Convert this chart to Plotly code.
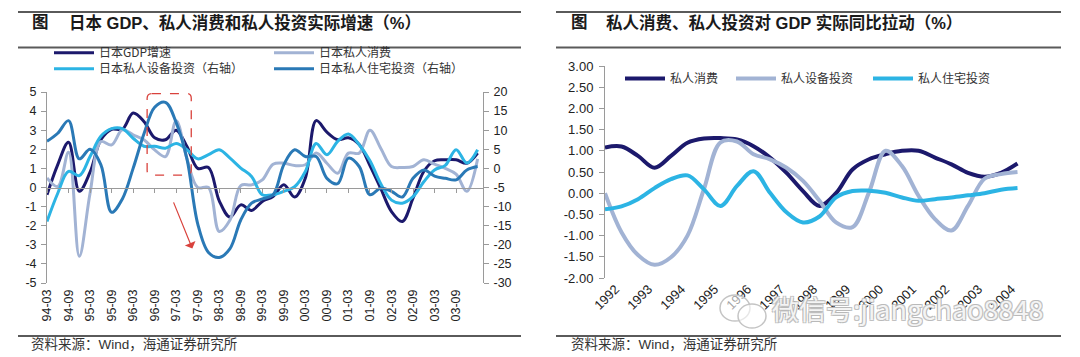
import plotly.graph_objects as go

W, H = 1080, 357

# ---------------- data: left panel (quarterly, y/y %) ----------------
quarters = ["94-03", "94-06", "94-09", "94-12", "95-03", "95-06", "95-09", "95-12",
            "96-03", "96-06", "96-09", "96-12", "97-03", "97-06", "97-09", "97-12",
            "98-03", "98-06", "98-09", "98-12", "99-03", "99-06", "99-09", "99-12",
            "00-03", "00-06", "00-09", "00-12", "01-03", "01-06", "01-09", "01-12",
            "02-03", "02-06", "02-09", "02-12", "03-03", "03-06", "03-09", "03-12",
            "04-03"]
left_tick_labels = ["94-03", "94-09", "95-03", "95-09", "96-03", "96-09", "97-03",
                    "97-09", "98-03", "98-09", "99-03", "99-09", "00-03", "00-09",
                    "01-03", "01-09", "02-03", "02-09", "03-03", "03-09"]

gdp_growth = [-0.38, 1.2, 2.37, -0.2, 0.8, 2.5, 3.05, 3.05, 3.9, 3.46, 2.6, 2.5, 3.0,
              2.15, 1.0, 1.05, -0.7, -1.55, -0.91, -1.2, -0.73, -0.47, 0.15, -0.5,
              0.5, 3.5, 2.9, 2.5, 2.6, 2.25, 1.15, -0.05, -1.26, -1.78, -0.56, 0.84,
              1.4, 1.45, 1.45, 1.27, 1.8]
consumption_growth = [0.5, 0.05, 1.85, -3.6, -0.3, 2.4, 2.23, 3.02, 2.76, 2.5, 1.97,
                      1.62, 3.5, 1.5, 0.0, 0.0, -2.3, -1.7, 0.1, 0.14, 0.4, 1.22, 1.27,
                      1.15, 1.19, 1.8, 1.27, 0.75, 1.8, 1.8, 3.0, 2.06, 1.1, 1.05, 1.1,
                      1.45, 1.22, 1.0, 0.7, -0.2, 1.5]
equipment_inv = [-13.9, -6.5, -0.8, -1.9, 3.1, 8.4, 10.4, 10.4, 7.9, 5.8, 5.8, 5.3,
                 6.5, 4.9, 2.5, 3.6, 4.9, 2.7, 0.1, -2.1, -6.9, -6.9, -6.0, -4.8, -0.8,
                 6.5, 3.6, 7.1, 9.0, 6.2, 2.0, -4.0, -8.3, -9.1, -7.4, -3.5, -0.4, 0.8,
                 4.9, 1.4, 4.9]
housing_inv = [7.1, 9.2, 12.5, 2.5, 5.0, 1.0, -11.5, -8.0, 0.0, 9.0, 16.0, 17.3, 12.0,
               2.5, -14.5, -22.0, -23.3, -21.0, -13.5, -9.1, -8.0, -6.9, 1.0, 4.9, 3.1,
               3.1, -2.6, -4.0, 2.7, 0.5, -6.9, -5.2, -6.0, -7.5, -2.6, -0.4, -2.0,
               -2.6, -3.0, -0.4, 0.5]

left_y_ticks = [-5, -4, -3, -2, -1, 0, 1, 2, 3, 4, 5]
left_y2_ticks = [-30, -25, -20, -15, -10, -5, 0, 5, 10, 15, 20]

# ---------------- data: right panel (contribution to GDP, pp) ----------------
years = [1992, 1993, 1994, 1995, 1996, 1997, 1998, 1999, 2000, 2001, 2002, 2003, 2004]
half_years = [1991.5, 1992.0, 1992.5, 1993.0, 1993.5, 1994.0, 1994.5, 1995.0, 1995.5,
              1996.0, 1996.5, 1997.0, 1997.5, 1998.0, 1998.5, 1999.0, 1999.5, 2000.0,
              2000.5, 2001.0, 2001.5, 2002.0, 2002.5, 2003.0, 2003.5, 2004.0]
pull_consumption = [1.08, 1.10, 0.88, 0.60, 0.88, 1.19, 1.29, 1.30, 1.27, 1.11, 0.84,
                    0.48, 0.05, -0.30, 0.0, 0.56, 0.80, 0.92, 1.0, 1.0, 0.84, 0.68,
                    0.48, 0.39, 0.48, 0.70]
pull_equipment = [0.0, -0.92, -1.46, -1.69, -1.51, -1.0, 0.1, 1.2, 1.22, 0.92, 0.8,
                  0.6, 0.29, -0.18, -0.69, -0.8, 0.02, 1.0, 0.64, -0.06, -0.61, -0.88,
                  -0.3, 0.34, 0.45, 0.5]
pull_housing = [-0.38, -0.31, -0.14, 0.12, 0.33, 0.42, 0.09, -0.30, 0.17, 0.52, 0.01,
                -0.45, -0.69, -0.55, -0.10, 0.05, 0.06, 0.01, -0.10, -0.18, -0.14,
                -0.10, -0.05, 0.0, 0.08, 0.12]
right_y_ticks = [-2.0, -1.5, -1.0, -0.5, 0.0, 0.5, 1.0, 1.5, 2.0, 2.5, 3.0]

# ---------------- styling ----------------
NAVY = "#1c196c"
GREY = "#a2b3d4"
CYAN = "#2cb4e4"
STEEL = "#2a79b6"
AX = "#9a9a9a"
CJK = '"Noto Sans CJK SC", sans-serif'
LAT = 'Arial, "Liberation Sans", "Noto Sans CJK SC", sans-serif'
tickfont = dict(family=LAT, size=12.5, color="#222")
VSHIFT = 7.5  # CJK text boxes render a little low when anchored at the middle


def fx(p):
    return p / W


def fy(p):
    return 1 - p / H


L_DX = [fx(39), fx(475)]
L_DY = [fy(275), fy(84)]
R_DX = [fx(597), fx(1026)]
R_DY = [fy(270), fy(58)]

fig = go.Figure()

spl = dict(shape="spline", smoothing=1.0)
fig.add_trace(go.Scatter(x=quarters, y=gdp_growth, name="日本GDP增速", mode="lines",
                         line=dict(color=NAVY, width=3, **spl), xaxis="x", yaxis="y",
                         legend="legend"))
fig.add_trace(go.Scatter(x=quarters, y=consumption_growth, name="日本私人消费", mode="lines",
                         line=dict(color=GREY, width=3, **spl), xaxis="x", yaxis="y",
                         legend="legend2"))
fig.add_trace(go.Scatter(x=quarters, y=equipment_inv, name="日本私人设备投资（右轴）",
                         mode="lines", line=dict(color=CYAN, width=3, **spl),
                         xaxis="x", yaxis="y2", legend="legend3"))
fig.add_trace(go.Scatter(x=quarters, y=housing_inv, name="日本私人住宅投资（右轴）",
                         mode="lines", line=dict(color=STEEL, width=3, **spl),
                         xaxis="x", yaxis="y2", legend="legend4"))

fig.add_trace(go.Scatter(x=half_years, y=pull_consumption, name="私人消费", mode="lines",
                         line=dict(color=NAVY, width=4, **spl), xaxis="x2", yaxis="y3",
                         legend="legend5"))
fig.add_trace(go.Scatter(x=half_years, y=pull_equipment, name="私人设备投资", mode="lines",
                         line=dict(color=GREY, width=4, **spl), xaxis="x2", yaxis="y3",
                         legend="legend6"))
fig.add_trace(go.Scatter(x=half_years, y=pull_housing, name="私人住宅投资", mode="lines",
                         line=dict(color=CYAN, width=4, **spl), xaxis="x2", yaxis="y3",
                         legend="legend7"))

n_q = len(quarters)
zero_left = L_DY[0] + (0 - left_y_ticks[0]) / (left_y_ticks[-1] - left_y_ticks[0]) * (L_DY[1] - L_DY[0])
zero_right = R_DY[0] + (0 - right_y_ticks[0]) / (right_y_ticks[-1] - right_y_ticks[0]) * (R_DY[1] - R_DY[0])
boundaries = [y - 0.5 for y in years] + [years[-1] + 0.5]

common_y = dict(ticks="outside", ticklen=5, tickcolor=AX, showline=True, linecolor=AX,
                linewidth=1, showgrid=False, zeroline=False, tickfont=tickfont)


def leg(text_x, y_px):
    return dict(orientation="h", x=fx(text_x - 57), y=fy(y_px - VSHIFT), xanchor="left",
                yanchor="middle", bgcolor="rgba(0,0,0,0)",
                font=dict(family=CJK, size=12, color="#333"), itemwidth=40,
                tracegroupgap=0)


fig.update_layout(
    width=W, height=H,
    margin=dict(l=0, r=0, t=0, b=0, autoexpand=False),
    paper_bgcolor="white", plot_bgcolor="white",
    xaxis=dict(domain=L_DX, anchor="y", type="category",
               range=[0, n_q - 0.5], tickmode="array",
               tickvals=left_tick_labels, ticktext=left_tick_labels,
               tickangle=-90, ticks="", showline=False, showgrid=False, zeroline=False,
               tickfont=tickfont, ticklabelstandoff=3),
    xaxis3=dict(overlaying="x", anchor="free", position=zero_left, domain=L_DX,
                type="linear", range=[0, n_q - 0.5],
                tickvals=list(range(0, len(left_tick_labels) * 2, 2)),
                ticks="outside", ticklen=4, tickcolor=AX, showline=True, linecolor=AX,
                showticklabels=False, showgrid=False, zeroline=False),
    yaxis=dict(domain=L_DY, anchor="x", range=[left_y_ticks[0], left_y_ticks[-1]],
               tickvals=left_y_ticks, ticktext=[str(v) for v in left_y_ticks],
               ticklabelstandoff=2, **common_y),
    yaxis2=dict(overlaying="y", side="right", anchor="x",
                range=[left_y2_ticks[0], left_y2_ticks[-1]],
                tickvals=left_y2_ticks, ticktext=[str(v) for v in left_y2_ticks],
                ticklabelstandoff=2, **common_y),
    xaxis2=dict(domain=R_DX, anchor="y3", range=[years[0] - 0.5, years[-1] + 0.5],
                tickvals=years, ticktext=[str(y) for y in years], tickangle=-45,
                ticks="", showline=False, showgrid=False, zeroline=False,
                tickfont=dict(family=LAT, size=13, color="#222"),
                ticklabelstandoff=0, ticklabelshift=-6),
    xaxis4=dict(overlaying="x2", anchor="free", position=zero_right, domain=R_DX,
                range=[years[0] - 0.5, years[-1] + 0.5], tickvals=boundaries,
                ticks="outside", ticklen=4, tickcolor=AX, showline=True, linecolor=AX,
                showticklabels=False, showgrid=False, zeroline=False),
    yaxis3=dict(domain=R_DY, anchor="x2", range=[right_y_ticks[0], right_y_ticks[-1]],
                tickvals=right_y_ticks, ticktext=["%.2f" % v for v in right_y_ticks],
                ticklabelstandoff=3,
                **{**common_y, "tickfont": dict(family=LAT, size=13, color="#222")}),
    legend=leg(98, 52.2),
    legend2=leg(318, 52.2),
    legend3=leg(98, 68.2),
    legend4=leg(318, 68.2),
    legend5=leg(669, 78),
    legend6=leg(780, 78),
    legend7=leg(917, 78),
    showlegend=True,
)

# rules above/below titles and above the source lines
shapes = []
for x0, x1 in [(10, 513), (548, 1053)]:
    for yy in (4, 39.5, 328):
        shapes.append(dict(type="line", xref="paper", yref="paper", x0=fx(x0), x1=fx(x1),
                           y0=fy(yy), y1=fy(yy), line=dict(color="#5a5a5a", width=2)))

# red dashed rounded box highlighting 1996-97 in left panel
bx0, bx1, by0, by1, rx, ry = 9.3, 13.4, 0.65, 4.92, 0.45, 0.25
box_path = (f"M{bx0+rx},{by1} L{bx1-rx},{by1} Q{bx1},{by1} {bx1},{by1-ry} "
            f"L{bx1},{by0+ry} Q{bx1},{by0} {bx1-rx},{by0} L{bx0+rx},{by0} "
            f"Q{bx0},{by0} {bx0},{by0+ry} L{bx0},{by1-ry} Q{bx0},{by1} {bx0+rx},{by1} Z")
shapes.append(dict(type="path", xref="x3", yref="y", path=box_path,
                   line=dict(color="#d9423c", width=1.3, dash="dash")))

# WeChat-like icon of watermark
shapes.append(dict(type="circle", xref="paper", yref="paper", x0=fx(712), x1=fx(742),
                   y0=fy(313), y1=fy(287), line=dict(color="#c4c4c4", width=1.5),
                   fillcolor="rgba(255,255,255,0.6)"))
shapes.append(dict(type="circle", xref="paper", yref="paper", x0=fx(730), x1=fx(758),
                   y0=fy(320), y1=fy(296), line=dict(color="#c4c4c4", width=1.5),
                   fillcolor="rgba(255,255,255,0.6)"))
fig.update_layout(shapes=shapes)

ann = []
title_font = dict(family=LAT, size=16.5, color="#1a1a1a")
ty = fy(22 - VSHIFT)
ann.append(dict(text="<b>图</b>", x=fx(22), y=ty, xref="paper", yref="paper",
                xanchor="left", yanchor="middle", showarrow=False, font=title_font))
ann.append(dict(text="<b>日本 GDP、私人消费和私人投资实际增速（%）</b>", x=fx(59), y=ty,
                xref="paper", yref="paper", xanchor="left", yanchor="middle",
                showarrow=False, font=title_font))
ann.append(dict(text="<b>图</b>", x=fx(561), y=ty, xref="paper", yref="paper",
                xanchor="left", yanchor="middle", showarrow=False, font=title_font))
ann.append(dict(text="<b>私人消费、私人投资对 GDP 实际同比拉动（%）</b>", x=fx(596), y=ty,
                xref="paper", yref="paper", xanchor="left", yanchor="middle",
                showarrow=False, font=title_font))
src_font = dict(family=LAT, size=13.5, color="#333")
for sx in (21, 561):
    ann.append(dict(text="资料来源：Wind，海通证券研究所", x=fx(sx), y=fy(344 - VSHIFT),
                    xref="paper", yref="paper", xanchor="left", yanchor="middle",
                    showarrow=False, font=src_font))
# red arrow
ann.append(dict(x=13.5, y=-3.2, ax=11.7, ay=-0.7, xref="x3", yref="y", axref="x3",
                ayref="y", text="", showarrow=True, arrowhead=1, arrowsize=1.6,
                arrowwidth=1.2, arrowcolor="#d9423c"))
# watermark
ann.append(dict(text="微信号:jiangchao8848", x=fx(762), y=fy(308 - VSHIFT), xref="paper",
                yref="paper", xanchor="left", yanchor="middle", showarrow=False,
                font=dict(family=CJK, size=27, color="rgba(255,255,255,0.85)",
                          shadow="1px 1px 0 #b8b8b8, -1px -1px 0 #b8b8b8, 1px -1px 0 #b8b8b8, -1px 1px 0 #b8b8b8")))
fig.update_layout(annotations=ann)

fig.write_html("out.html")
